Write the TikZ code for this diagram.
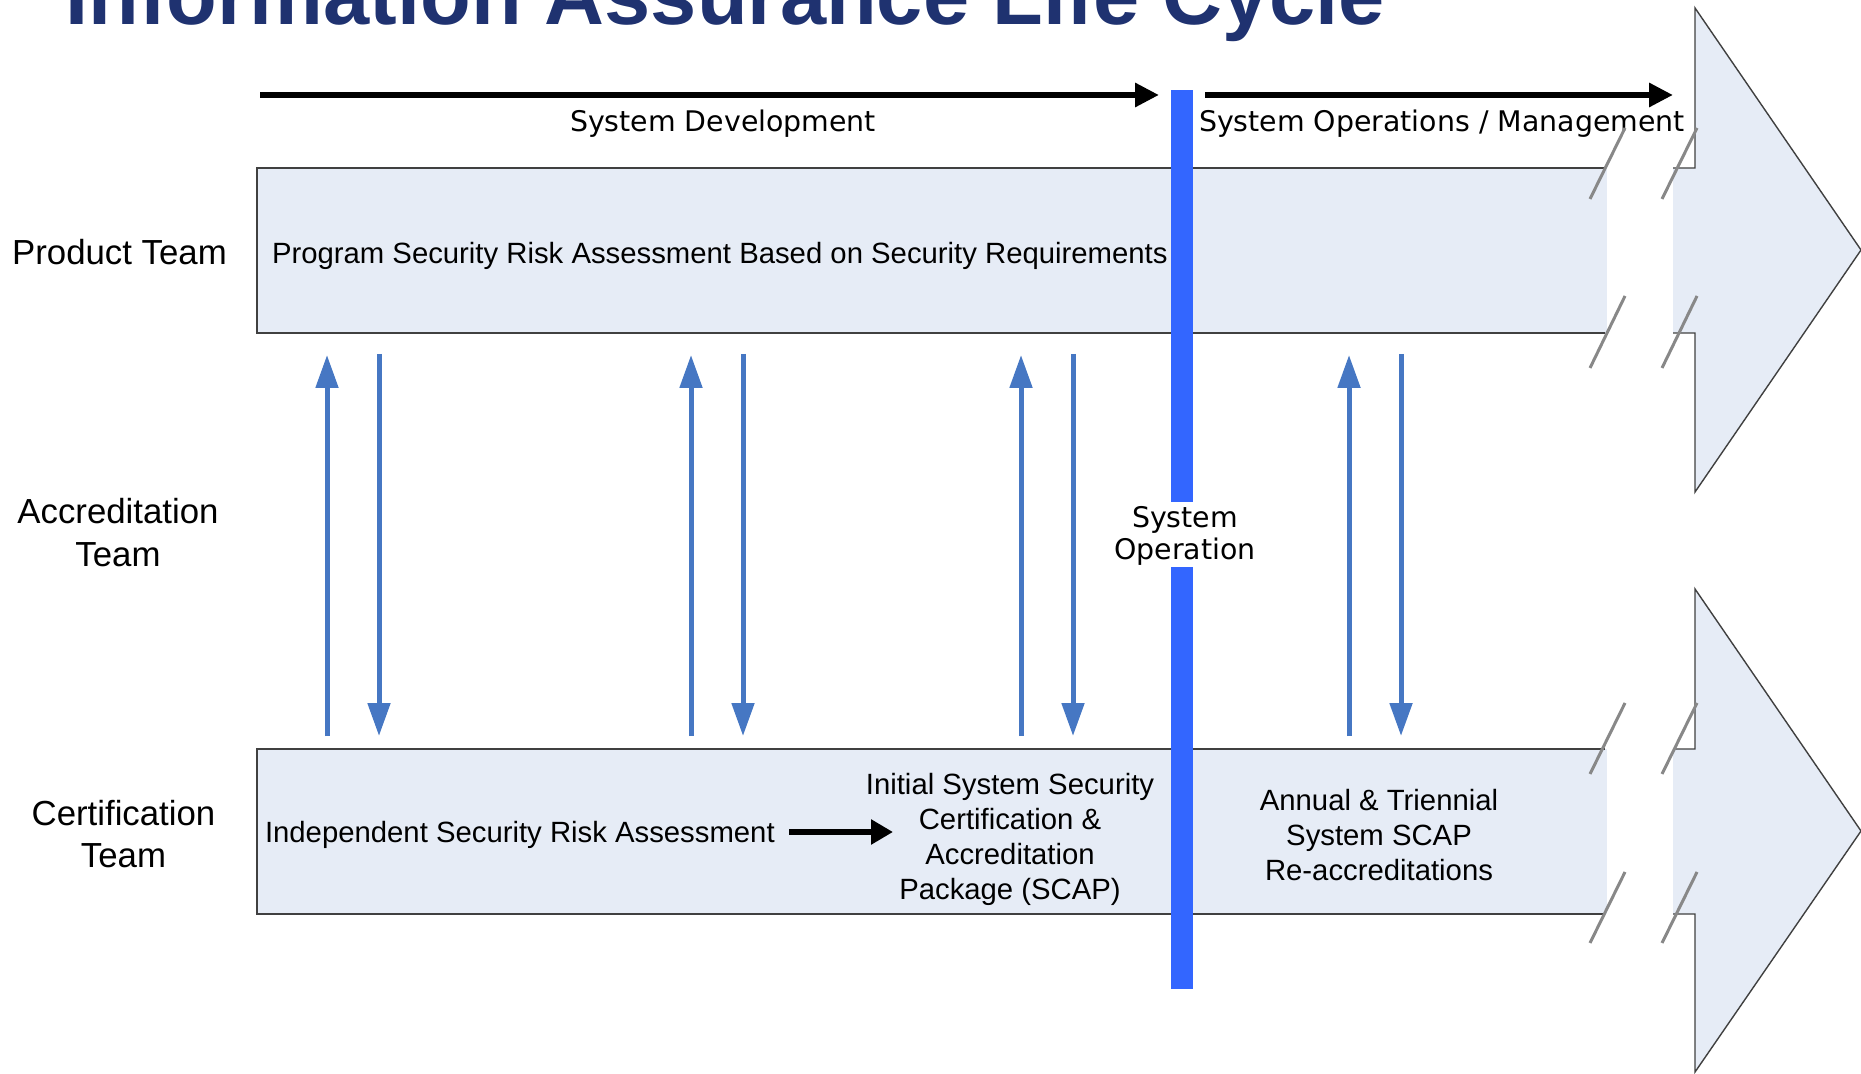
\documentclass[tikz,border=0pt]{standalone}
\usepackage{fontspec}
\setmainfont{Liberation Sans}
\newfontfamily\vfont{DejaVu Sans}
\usetikzlibrary{arrows.meta}
\definecolor{titleblue}{HTML}{1F3270}
\definecolor{boxfill}{HTML}{E6ECF6}
\definecolor{arrowblue}{HTML}{4677C3}
\definecolor{barblue}{HTML}{3366FF}
\definecolor{edgegray}{HTML}{404040}
\definecolor{breakgray}{HTML}{888888}
\tikzset{
  lbl/.style={inner sep=0pt, outer sep=0pt, align=center},
  team/.style={lbl, font=\fontsize{17.4}{21}\selectfont},
  boxtxt/.style={lbl, font=\fontsize{14.65}{17.5}\selectfont},
  phase/.style={lbl, font=\vfont\fontsize{14.2}{16}\selectfont},
  updn/.style={draw=arrowblue, line width=2.5pt, -{Triangle[length=16.5pt,width=11pt]}},
  flow/.style={draw=black, line width=3pt, -{Triangle[length=12pt,width=11.5pt]}},
  smallflow/.style={draw=black, line width=3pt, -{Triangle[length=11pt,width=12pt]}},
  edge/.style={draw=edgegray, line width=0.7pt},
  brk/.style={draw=breakgray, line width=1.5pt},
  bar/.style={fill=barblue, draw=none}
}
\begin{document}
\begin{tikzpicture}[x=0.5pt,y=-0.5pt]
\useasboundingbox (0,0) rectangle (1861,1074);
\clip (0,0) rectangle (1861,1074);

% title
\node[anchor=base west, inner sep=0pt, text=titleblue, font=\bfseries\fontsize{41.5}{48}\selectfont] (title) at (65,25) {Information Assurance Life Cycle};

% phase arrows
\coordinate (sd0) at (260,95);
\coordinate (sd1) at (1159,95);
\coordinate (so0) at (1205,95);
\coordinate (so1) at (1673,95);
\draw[flow] (sd0) -- (sd1);
\draw[flow] (so0) -- (so1);
\node[phase, anchor=base west] (sdev) at (570,132) {System Development};
\node[phase, anchor=base west] (sops) at (1199,132) {System Operations / Management};

% product band
\fill[boxfill] (257,168) rectangle (1607,333);
\draw[edge] (1605,168) -- (257,168) -- (257,333) -- (1605,333);
\fill[boxfill] (1673,168) -- (1695,168) -- (1695,8) -- (1861,250) -- (1695,492) -- (1695,333) -- (1673,333) -- cycle;
\draw[edge] (1673,168) -- (1695,168) -- (1695,8) -- (1861,250) -- (1695,492) -- (1695,333) -- (1673,333);
\draw[brk] (1590,199) -- (1625,128);
\draw[brk] (1662,199) -- (1697,128);
\draw[brk] (1590,368) -- (1625,296);
\draw[brk] (1662,368) -- (1697,296);

% certification band
\fill[boxfill] (257,749) rectangle (1607,914);
\draw[edge] (1605,749) -- (257,749) -- (257,914) -- (1605,914);
\fill[boxfill] (1673,749) -- (1695,749) -- (1695,589) -- (1861,831) -- (1695,1072) -- (1695,914) -- (1673,914) -- cycle;
\draw[edge] (1673,749) -- (1695,749) -- (1695,589) -- (1861,831) -- (1695,1072) -- (1695,914) -- (1673,914);
\draw[brk] (1590,774) -- (1625,703);
\draw[brk] (1662,774) -- (1697,703);
\draw[brk] (1590,943) -- (1625,872);
\draw[brk] (1662,943) -- (1697,872);

% system operation bar
\fill[bar] (1171,90) rectangle (1193,502);
\fill[bar] (1171,567) rectangle (1193,989);
\node[phase] (sysop) at (1185,536) {System\\Operation};

% team labels (multi-line nodes: base = last line baseline)
\node[team, anchor=base] (prodteam) at (119.5,265) {Product Team};
\node[team, anchor=base] (accteam) at (118,566) {Accreditation\\Team};
\node[team, anchor=base] (certteam) at (123.5,867) {Certification\\Team};

% box texts
\node[boxtxt, anchor=base west] (prsa) at (272,264) {Program Security Risk Assessment Based on Security Requirements};
\node[boxtxt, anchor=base west] (isra) at (265,842) {Independent Security Risk Assessment};
\node[boxtxt, anchor=base] (iscap) at (1010,899) {Initial System Security\\Certification \&\\Accreditation\\Package (SCAP)};
\node[boxtxt, anchor=base] (annual) at (1379,880) {Annual \& Triennial\\System SCAP\\Re-accreditations};

\coordinate (ia0) at (789,832);
\coordinate (ia1) at (893,832);
\draw[smallflow] (ia0) -- (ia1);

% exchange arrows
\foreach \i/\xu/\xd in {1/327/379, 2/691/743, 3/1021/1073, 4/1349/1401} {
  \coordinate (up\i s) at (\xu,736);
  \coordinate (up\i e) at (\xu,355);
  \coordinate (dn\i s) at (\xd,354);
  \coordinate (dn\i e) at (\xd,736);
  \draw[updn] (up\i s) -- (up\i e);
  \draw[updn] (dn\i s) -- (dn\i e);
}
\end{tikzpicture}
\end{document}
